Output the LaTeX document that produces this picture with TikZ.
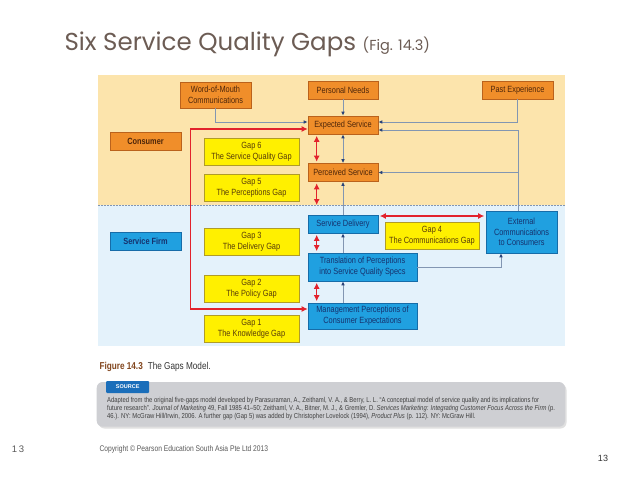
\documentclass[tikz,border=0pt]{standalone}
\usepackage{fontspec}
\setmainfont{Liberation Sans}
\newfontfamily\condfont[FakeStretch=0.82]{Liberation Sans}
\newfontfamily\titlefont{Poppins}
\usetikzlibrary{arrows.meta,positioning}

\definecolor{peach}{RGB}{252,228,172}
\definecolor{paleblue}{RGB}{228,242,251}
\definecolor{boxorange}{RGB}{240,142,42}
\definecolor{orangeedge}{RGB}{186,98,28}
\definecolor{orangetext}{RGB}{78,38,10}
\definecolor{gapyellow}{RGB}{255,240,0}
\definecolor{yellowedge}{RGB}{176,156,40}
\definecolor{yellowtext}{RGB}{88,60,10}
\definecolor{firmblue}{RGB}{32,160,224}
\definecolor{blueedge}{RGB}{22,108,168}
\definecolor{bluetext}{RGB}{22,50,110}
\definecolor{linkgray}{RGB}{130,150,178}
\definecolor{tipnavy}{RGB}{40,66,120}
\definecolor{gapred}{RGB}{226,34,44}
\definecolor{titlegray}{RGB}{108,92,84}
\definecolor{captionbrown}{RGB}{130,70,30}
\definecolor{sourcegray}{RGB}{206,207,211}
\definecolor{sourceblue}{RGB}{26,110,186}

\begin{document}
\begin{tikzpicture}[
		x=1pt, y=-1pt,
		box/.style={
			rectangle,
			draw,
			line width=0.6pt,
			align=center,
			inner sep=0pt,
			minimum width=71pt,
			minimum height=18pt,
			font=\condfont\fontsize{9}{10.7}\selectfont
		},
		consumerbox/.style={
			box,
			fill=boxorange,
			draw=orangeedge,
			text=orangetext
		},
		firmbox/.style={
			box,
			fill=firmblue,
			draw=blueedge,
			text=bluetext
		},
		gapbox/.style={
			box,
			fill=gapyellow,
			draw=yellowedge,
			text=yellowtext,
			minimum width=95pt,
			minimum height=27pt
		},
		link/.style={
			draw=linkgray,
			line width=0.8pt,
			-{Latex[length=4pt,width=3.6pt,color=tipnavy]}
		},
		twolink/.style={
			link,
			{Latex[length=4pt,width=3.6pt,color=tipnavy]}-{Latex[length=4pt,width=3.6pt,color=tipnavy]}
		},
		gap/.style={
			draw=gapred,
			line width=1.3pt,
			{Latex[length=6pt,width=6pt]}-{Latex[length=6pt,width=6pt]},
			shorten <=1.5pt,
			shorten >=1.5pt
		}
		]
		
		\fill[white] (0,0) rectangle (638,479);
		\useasboundingbox (0,0) rectangle (638,479);
		
		% title
		\node[anchor=west, text=titlegray, font=\titlefont\fontsize{24.5}{28}\selectfont] (title) at (61,44)
		{Six Service Quality Gaps {\fontsize{14.5}{16}\selectfont(Fig. 14.3)}};
		
		% the two zones
		\fill[peach] (98,75) rectangle (565,205);
		\fill[paleblue] (98,205) rectangle (565,346);
		\coordinate (border) at (98,205);
		\draw[linkgray, line width=0.7pt, dash pattern=on 1.5pt off 1.5pt] (border) -- ++(467,0);
		\coordinate (gapaxis) at (316.7,0);
		
		% consumer
		\node[consumerbox, minimum height=26pt] (wom) at (215.5,95)
		{Word-of-Mouth\\Communications};
		\node[consumerbox, minimum width=70pt] (needs) at (343,90) {Personal Needs};
		\node[consumerbox] (past) at (517.5,90) {Past Experience};
		\node[consumerbox] (consumer) at (145.5,141) {\bfseries Consumer};
		\node[consumerbox, minimum width=70pt] (expected) at (343,125) {Expected Service};
		\node[consumerbox, minimum width=70pt] (perceived) at (343,172.5) {Perceived Service};
		\node[gapbox] (gapsix) at (251.5,152) {Gap 6\\The Service Quality Gap};
		\node[gapbox] (gapfive) at (251.5,188) {Gap 5\\The Perceptions Gap};
		
		% service firm
		\node[firmbox] (firm) at (145.5,241) {\bfseries Service Firm};
		\node[firmbox, minimum width=70pt] (delivery) at (343,224) {Service Delivery};
		\node[gapbox, minimum width=94pt] (gapfour) at (432,235.5)
		{Gap 4\\The Communications Gap};
		\node[firmbox, minimum height=42pt] (extcomm) at (521.5,232)
		{External\\Communications\\to Consumers};
		\node[firmbox, minimum width=109pt, minimum height=28pt] (translation) at (362.5,267)
		{Translation of Perceptions\\into Service Quality Specs};
		\node[firmbox, minimum width=109pt, minimum height=26pt] (mgmt) at (362.5,316)
		{Management Perceptions of\\Consumer Expectations};
		\node[gapbox] (gapthree) at (251.5,241.5) {Gap 3\\The Delivery Gap};
		\node[gapbox] (gaptwo) at (251.5,289) {Gap 2\\The Policy Gap};
		\node[gapbox] (gapone) at (251.5,328.5) {Gap 1\\The Knowledge Gap};
		
		% influences
		\draw[link] (wom.south) |- ([yshift=3pt]expected.west);
		\draw[link] (needs) -- (expected);
		\draw[link] (past.south) |- ([yshift=3pt]expected.east);
		\draw[link] ([xshift=-3.5pt]extcomm.north) |- ([yshift=-5pt]expected.east);
		\draw[link] ([xshift=-3.5pt]extcomm.north) |- (perceived.east);
		\draw[twolink] (expected) -- (perceived);
		\draw[link] (delivery) -- (perceived);
		\draw[link] (translation.north -| delivery.south) -- (delivery.south);
		\draw[link] (mgmt.north -| delivery.south) -- (translation.south -| delivery.south);
		\draw[link] (translation.east) -| ([xshift=-20.5pt]extcomm.south);
		
		% gaps
		\coordinate (gapcorner) at (190.7,309);
		\draw[gap, shorten <=0pt, shorten >=0pt]
		([yshift=-4pt]expected.west) -| (gapcorner) -- ([yshift=7pt]mgmt.west);
		\draw[gap] (gapaxis |- expected.south) -- (gapaxis |- perceived.north);
		\draw[gap, shorten >=0pt] (gapaxis |- perceived.south) -- (gapaxis |- border);
		\draw[gap] (gapaxis |- delivery.south) -- (gapaxis |- translation.north);
		\draw[gap] (gapaxis |- translation.south) -- (gapaxis |- mgmt.north);
		\draw[gap] ([yshift=8pt]delivery.east) -- ([yshift=8pt]delivery.east -| extcomm.west);
		
		% caption and source
		\node[anchor=west, text=black!80, font=\condfont\fontsize{10}{12}\selectfont] (caption) at (96,367)
		{\textcolor{captionbrown}{\bfseries Figure 14.3}\enspace The Gaps Model.};
		\fill[black!12, rounded corners=6pt] (98.5,384) rectangle (566.5,428.5);
		\fill[sourcegray, rounded corners=6pt] (96.7,382) rectangle (565,426.7);
		\node[fill=sourceblue, text=white, rounded corners=1pt, inner sep=0pt, minimum width=43pt,
		minimum height=12pt, font=\rmfamily\bfseries\fontsize{5.5}{6}\selectfont] (source) at (127.7,387)
		{SOURCE};
		\node[anchor=north west, align=left, inner sep=0pt, text=black!75,
		font=\condfont\fontsize{7.2}{8.2}\selectfont] (reference) at (107,397)
		{Adapted from the original five-gaps model developed by Parasuraman, A., Zeithaml, V. A., \& Berry, L. L. “A conceptual model of service quality and its implications for\\
			future research”. \textit{Journal of Marketing} 49, Fall 1985 41–50; Zeithaml, V. A., Bitner, M. J., \& Gremler, D. \textit{Services Marketing: Integrating Customer Focus Across the Firm} (p.\\
			46.). NY: McGraw Hill/Irwin, 2006. A further gap (Gap 5) was added by Christopher Lovelock (1994), \textit{Product Plus} (p. 112). NY: McGraw Hill.};
		\node[anchor=west, text=black!65, font=\condfont\fontsize{8.2}{9}\selectfont] (copyright) at (96,449)
		{Copyright \textcopyright{} Pearson Education South Asia Pte Ltd 2013};
		\node[text=black!65, font=\fontsize{9.5}{10}\selectfont] (pageleft) at (18,449) {1\,3};
		\node[text=black!80, font=\fontsize{9}{10}\selectfont] (pageright) at (603,458) {13};
		
	\end{tikzpicture}
\end{document}
